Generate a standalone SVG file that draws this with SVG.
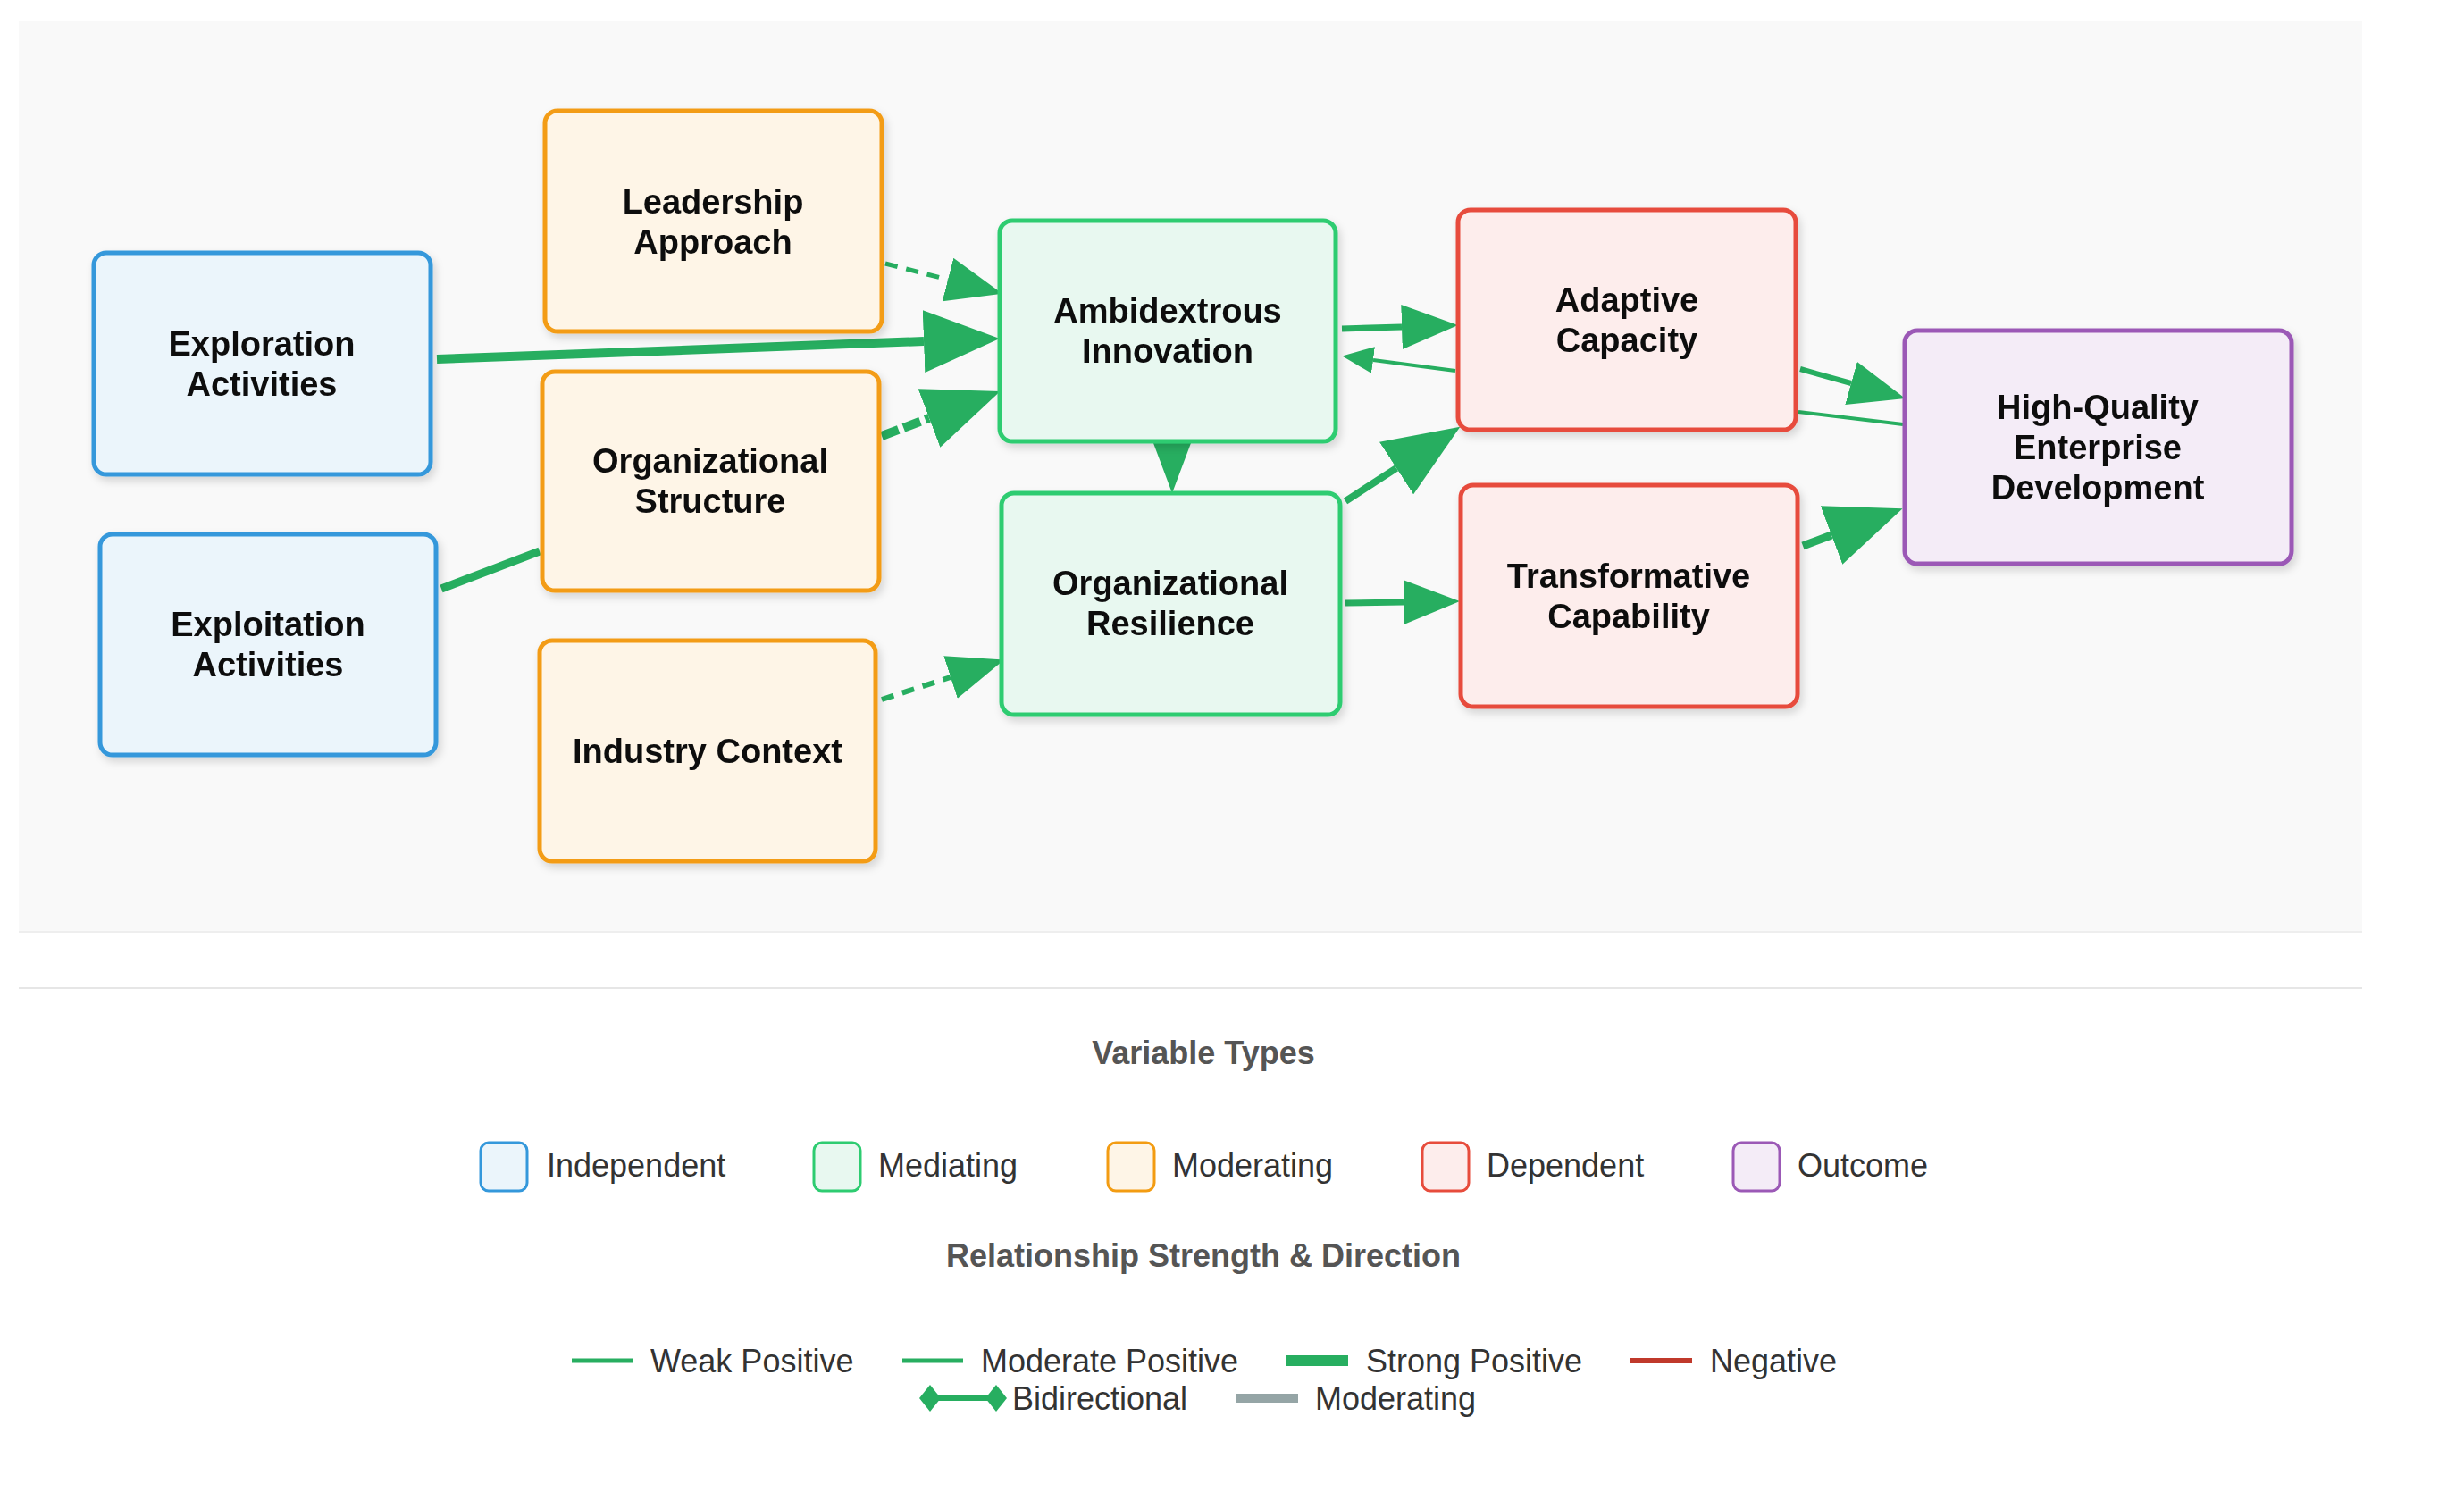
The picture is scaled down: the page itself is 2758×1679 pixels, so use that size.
<svg xmlns="http://www.w3.org/2000/svg" width="2758" height="1679" viewBox="0 0 2758 1679">
<style>
.n rect{stroke-width:5}
.t{font-family:"Liberation Sans",Arial,sans-serif;font-weight:bold;font-size:38px;fill:#111;text-anchor:middle;dominant-baseline:central}
.ind rect{fill:#ebf5fb;stroke:#3498db}
.med rect{fill:#e8f8f0;stroke:#2ecc71}
.mod rect{fill:#fef5e7;stroke:#f39c12}
.dep rect{fill:#fdedec;stroke:#e74c3c}
.out rect{fill:#f4ecf7;stroke:#9b59b6}
.c{fill:none;stroke:#27ae60}
.h{font-family:"Liberation Sans",Arial,sans-serif;font-weight:bold;font-size:36px;fill:#555;text-anchor:middle;dominant-baseline:central}
.l{font-family:"Liberation Sans",Arial,sans-serif;font-size:36px;fill:#333;dominant-baseline:central}
</style>
<defs>
<filter id="sh" x="-10%" y="-10%" width="130%" height="130%"><feDropShadow dx="3" dy="5" stdDeviation="5" flood-opacity="0.15"/></filter>
<marker id="big" markerUnits="userSpaceOnUse" markerWidth="85" markerHeight="70" refX="0" refY="35" orient="auto"><path d="M0,0 L85,35 L0,70 z" fill="#27ae60"/></marker>
<marker id="med" markerUnits="userSpaceOnUse" markerWidth="63" markerHeight="50" refX="0" refY="25" orient="auto"><path d="M0,0 L63,25 L0,50 z" fill="#27ae60"/></marker>
<marker id="sm" markerUnits="userSpaceOnUse" markerWidth="35" markerHeight="30" refX="0" refY="15" orient="auto"><path d="M0,0 L35,15 L0,30 z" fill="#27ae60"/></marker>
</defs>
<rect width="2758" height="1679" fill="#fff"/>
<rect x="21" y="23" width="2623" height="1020" fill="#f9f9f9"/>
<line x1="21" y1="1043" x2="2644" y2="1043" stroke="#eee" stroke-width="2"/>
<line x1="21" y1="1106" x2="2644" y2="1106" stroke="#e6e6e6" stroke-width="2"/>

<g id="connectors">
<line class="c" x1="991" y1="295" x2="1061" y2="313" stroke-width="5" stroke-dasharray="14,10" marker-end="url(#med)"/>
<line class="c" x1="489" y1="402" x2="1034" y2="382" stroke-width="10" marker-end="url(#big)"/>
<line class="c" x1="987" y1="488" x2="1040" y2="468" stroke-width="10" stroke-dasharray="20,6" marker-end="url(#big)"/>
<line class="c" x1="987" y1="783" x2="1064" y2="758" stroke-width="6" stroke-dasharray="14,10" marker-end="url(#med)"/>
<line class="c" x1="494" y1="659" x2="604" y2="617" stroke-width="9"/>
<polygon points="1291,496 1333,496 1312,552" fill="#27ae60"/>
<line class="c" x1="1502" y1="368" x2="1569" y2="366" stroke-width="7" marker-end="url(#med)"/>
<line class="c" x1="1629" y1="415" x2="1537" y2="403" stroke-width="4" marker-end="url(#sm)"/>
<line class="c" x1="1506" y1="561" x2="1563" y2="524" stroke-width="8" marker-end="url(#big)"/>
<line class="c" x1="1506" y1="675" x2="1571" y2="674" stroke-width="7" marker-end="url(#med)"/>
<line class="c" x1="2015" y1="413" x2="2072" y2="429" stroke-width="6" marker-end="url(#med)"/>
<line class="c" x1="2013" y1="461" x2="2130" y2="475" stroke-width="4"/>
<line class="c" x1="2018" y1="611" x2="2050" y2="599" stroke-width="9" marker-end="url(#big)"/>
</g>

<g id="exploration" class="n ind" filter="url(#sh)"><rect x="105" y="283" width="377" height="248" rx="14"/><text class="t" x="293" y="385">Exploration</text><text class="t" x="293" y="430">Activities</text></g>
<g id="exploitation" class="n ind" filter="url(#sh)"><rect x="112" y="598" width="376" height="247" rx="14"/><text class="t" x="300" y="699">Exploitation</text><text class="t" x="300" y="744">Activities</text></g>
<g id="leadership" class="n mod" filter="url(#sh)"><rect x="610" y="124" width="377" height="247" rx="14"/><text class="t" x="798" y="226">Leadership</text><text class="t" x="798" y="271">Approach</text></g>
<g id="orgstructure" class="n mod" filter="url(#sh)"><rect x="607" y="416" width="377" height="245" rx="14"/><text class="t" x="795" y="516">Organizational</text><text class="t" x="795" y="561">Structure</text></g>
<g id="industry" class="n mod" filter="url(#sh)"><rect x="604" y="717" width="376" height="247" rx="14"/><text class="t" x="792" y="841">Industry Context</text></g>
<g id="ambidextrous" class="n med" filter="url(#sh)"><rect x="1119" y="247" width="376" height="247" rx="14"/><text class="t" x="1307" y="348">Ambidextrous</text><text class="t" x="1307" y="393">Innovation</text></g>
<g id="resilience" class="n med" filter="url(#sh)"><rect x="1121" y="552" width="379" height="248" rx="14"/><text class="t" x="1310" y="653">Organizational</text><text class="t" x="1310" y="698">Resilience</text></g>
<g id="adaptive" class="n dep" filter="url(#sh)"><rect x="1632" y="235" width="378" height="246" rx="14"/><text class="t" x="1821" y="336">Adaptive</text><text class="t" x="1821" y="381">Capacity</text></g>
<g id="transformative" class="n dep" filter="url(#sh)"><rect x="1635" y="543" width="377" height="248" rx="14"/><text class="t" x="1823" y="645">Transformative</text><text class="t" x="1823" y="690">Capability</text></g>
<g id="hq" class="n out" filter="url(#sh)"><rect x="2132" y="370" width="433" height="261" rx="14"/><text class="t" x="2348" y="456">High-Quality</text><text class="t" x="2348" y="501">Enterprise</text><text class="t" x="2348" y="546">Development</text></g>

<g id="legend">
<text class="h" x="1347" y="1178">Variable Types</text>
<rect x="538" y="1279" width="52" height="54" rx="9" fill="#ebf5fb" stroke="#3498db" stroke-width="3"/><text class="l" x="612" y="1304">Independent</text>
<rect x="911" y="1279" width="52" height="54" rx="9" fill="#e8f8f0" stroke="#2ecc71" stroke-width="3"/><text class="l" x="983" y="1304">Mediating</text>
<rect x="1240" y="1279" width="52" height="54" rx="9" fill="#fef5e7" stroke="#f39c12" stroke-width="3"/><text class="l" x="1312" y="1304">Moderating</text>
<rect x="1592" y="1279" width="52" height="54" rx="9" fill="#fdedec" stroke="#e74c3c" stroke-width="3"/><text class="l" x="1664" y="1304">Dependent</text>
<rect x="1940" y="1279" width="52" height="54" rx="9" fill="#f4ecf7" stroke="#9b59b6" stroke-width="3"/><text class="l" x="2012" y="1304">Outcome</text>
<text class="h" x="1347" y="1405">Relationship Strength &amp; Direction</text>
<line x1="640" y1="1523" x2="709" y2="1523" stroke="#27ae60" stroke-width="5"/><text class="l" x="728" y="1523">Weak Positive</text>
<line x1="1010" y1="1523" x2="1078" y2="1523" stroke="#27ae60" stroke-width="5"/><text class="l" x="1098" y="1523">Moderate Positive</text>
<line x1="1439" y1="1523" x2="1509" y2="1523" stroke="#27ae60" stroke-width="12"/><text class="l" x="1529" y="1523">Strong Positive</text>
<line x1="1824" y1="1523" x2="1894" y2="1523" stroke="#c0392b" stroke-width="6"/><text class="l" x="1914" y="1523">Negative</text>
<line x1="1041" y1="1565" x2="1115" y2="1565" stroke="#27ae60" stroke-width="6"/>
<polygon points="1029,1565 1041,1550 1053,1565 1041,1580" fill="#27ae60"/>
<polygon points="1103,1565 1115,1550 1127,1565 1115,1580" fill="#27ae60"/>
<text class="l" x="1133" y="1565">Bidirectional</text>
<line x1="1384" y1="1565" x2="1453" y2="1565" stroke="#95a5a6" stroke-width="10"/><text class="l" x="1472" y="1565">Moderating</text>
</g>
</svg>
